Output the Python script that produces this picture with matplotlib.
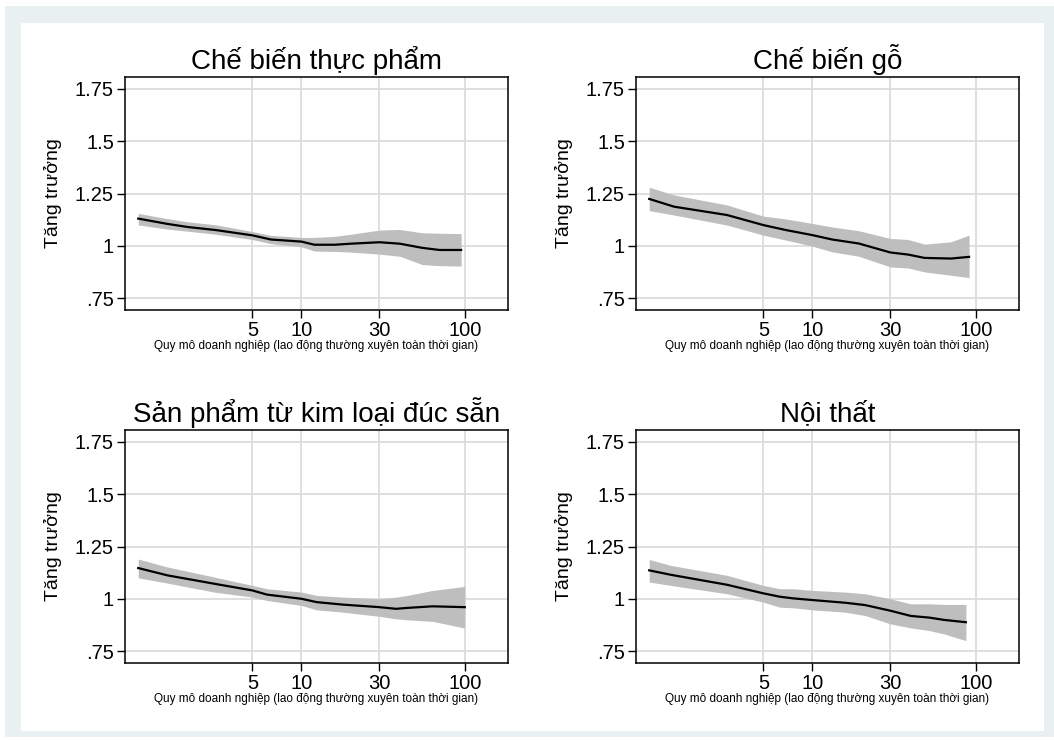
import numpy as np
import matplotlib
matplotlib.use("Agg")
import matplotlib.pyplot as plt
from matplotlib.patches import Rectangle

plt.rcParams['font.family'] = ['Liberation Sans', 'DejaVu Sans']

titles = ["Chế biến thực phẩm", "Chế biến gỗ",
          "Sản phẩm từ kim loại đúc sẵn", "Nội thất"]

# panel 1
x1 = [1, 1.5, 2, 3, 5, 6.5, 10, 12, 16, 20, 30, 40, 55, 70, 95]
m1 = [1.13, 1.105, 1.09, 1.075, 1.05, 1.03, 1.02, 1.005, 1.005, 1.01, 1.017, 1.01, 0.99, 0.98, 0.98]
lo1 = [1.10, 1.08, 1.07, 1.055, 1.03, 1.01, 0.995, 0.975, 0.973, 0.97, 0.96, 0.95, 0.91, 0.905, 0.903]
hi1 = [1.155, 1.13, 1.115, 1.10, 1.068, 1.05, 1.04, 1.04, 1.045, 1.055, 1.075, 1.078, 1.062, 1.06, 1.058]

# panel 2
x2 = [1, 1.42, 3, 5, 6.9, 10, 13.2, 19.2, 30, 38.5, 48.6, 70.5, 91]
m2 = [1.224, 1.187, 1.147, 1.099, 1.075, 1.051, 1.03, 1.011, 0.968, 0.958, 0.942, 0.939, 0.947]
lo2 = [1.168, 1.147, 1.099, 1.051, 1.027, 0.998, 0.971, 0.95, 0.899, 0.894, 0.875, 0.859, 0.848]
hi2 = [1.28, 1.243, 1.195, 1.142, 1.128, 1.107, 1.09, 1.072, 1.035, 1.03, 1.008, 1.019, 1.051]

# panel 3
x3 = [1, 1.51, 2.92, 5, 6.15, 10, 12.4, 18, 30, 38, 43.6, 63.5, 100]
m3 = [1.147, 1.112, 1.072, 1.04, 1.02, 1.0, 0.984, 0.972, 0.96, 0.952, 0.956, 0.964, 0.96]
lo3 = [1.10, 1.075, 1.032, 1.008, 0.992, 0.968, 0.947, 0.936, 0.916, 0.904, 0.90, 0.892, 0.86]
hi3 = [1.19, 1.152, 1.104, 1.064, 1.048, 1.032, 1.016, 1.008, 1.0, 1.008, 1.015, 1.04, 1.059]

# panel 4
x4 = [1, 1.35, 3, 5, 6.3, 7.6, 10, 15.9, 21, 30, 40, 52, 64, 87]
m4 = [1.136, 1.115, 1.067, 1.026, 1.01, 1.002, 0.994, 0.981, 0.97, 0.943, 0.918, 0.91, 0.899, 0.888]
lo4 = [1.08, 1.064, 1.024, 0.984, 0.96, 0.957, 0.947, 0.936, 0.92, 0.88, 0.861, 0.848, 0.832, 0.80]
hi4 = [1.188, 1.16, 1.112, 1.064, 1.048, 1.048, 1.04, 1.032, 1.024, 1.0, 0.976, 0.976, 0.973, 0.973]

xs = [x1, x2, x3, x4]
ms = [m1, m2, m3, m4]
los = [lo1, lo2, lo3, lo4]
his = [hi1, hi2, hi3, hi4]

xticks = [5, 10, 30, 100]
yticks = [0.75, 1, 1.25, 1.5, 1.75]
ylabels = [".75", "1", "1.25", "1.5", "1.75"]

W, H = 1054, 740
fig = plt.figure(figsize=(W / 100, H / 100), dpi=100)
fig.patch.set_facecolor("white")

# stata-style outer band
fig.patches.append(Rectangle((5 / W, 3 / H), 1049 / W, 731 / H, transform=fig.transFigure,
                             facecolor="#E8F0F2", edgecolor="none", zorder=-10))
fig.patches.append(Rectangle((21 / W, 9 / H), 1023 / W, 708 / H, transform=fig.transFigure,
                             facecolor="white", edgecolor="none", zorder=-9))

lefts = [125, 636, 125, 636]
tops = [77, 77, 430, 430]
aw, ah = 383, 233

for i in range(4):
    ax = fig.add_axes([lefts[i] / W, (H - tops[i] - ah) / H, aw / W, ah / H])
    ax.fill_between(xs[i], los[i], his[i], color="#BEBEBE", linewidth=0, zorder=2)
    ax.plot(xs[i], ms[i], color="black", linewidth=1.6, zorder=3)
    ax.set_xscale("log")
    ax.set_xlim(0.83, 184)
    ax.set_ylim(0.693, 1.807)
    ax.set_xticks(xticks)
    ax.set_xticklabels([str(t) for t in xticks])
    ax.xaxis.set_minor_locator(matplotlib.ticker.NullLocator())
    ax.set_yticks(yticks)
    ax.set_yticklabels(ylabels)
    ax.grid(True, color="#DCDCDC", linewidth=1.3, zorder=1)
    ax.set_axisbelow(True)
    for s in ax.spines.values():
        s.set_color("black")
        s.set_linewidth(1.1)
    ax.tick_params(axis="both", labelsize=14.5, length=5.5, width=1.0, color="black", pad=2.5)
    ax.set_title(titles[i], fontsize=20, pad=6)
    ax.set_ylabel("Tăng trưởng", fontsize=14, labelpad=9)
    ax.set_xlabel("Quy mô doanh nghiệp (lao động thường xuyên toàn thời gian)", fontsize=8.5, labelpad=0)

fig.savefig("out.png", dpi=100)
